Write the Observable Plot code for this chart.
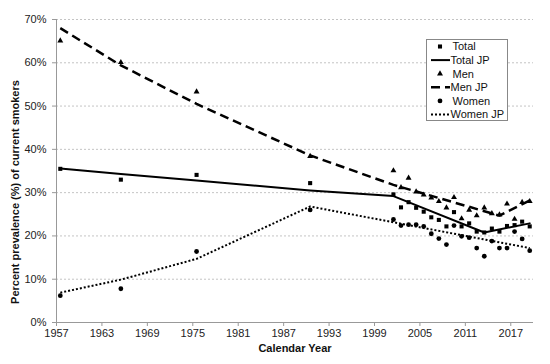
<!DOCTYPE html>
<html><head><meta charset="utf-8">
<script src="https://cdn.jsdelivr.net/npm/d3@7"></script>
<script src="https://cdn.jsdelivr.net/npm/@observablehq/plot@0.6"></script>
<style>
body{margin:0;background:#fff;}
#wrap{position:relative;width:550px;height:364px;font-family:"Liberation Sans",Arial,sans-serif;}
#legend{position:absolute;left:0;top:0;}
</style></head><body><div id="wrap"></div>
<script>
// Observed prevalence (%), data placed at mid-year
const years = [1957, 1965, 1975, 1990, 2001, 2002, 2003, 2004, 2005, 2006, 2007, 2008, 2009, 2010, 2011, 2012, 2013, 2014, 2015, 2016, 2017, 2018, 2019];
const total = [35.5, 33.0, 34.1, 32.2, 29.6, 26.6, 27.8, 26.5, 25.6, 24.3, 23.7, 22.2, 25.5, 22.2, 22.9, 21.0, 20.8, 21.7, 21.0, 22.3, 22.5, 23.3, 22.2];
const men   = [65.1, 60.1, 53.3, 38.4, 35.1, 31.2, 33.4, 30.2, 29.5, 28.8, 28.0, 26.5, 28.9, 24.0, 26.0, 24.7, 26.5, 25.2, 24.9, 27.4, 23.9, 27.8, 28.0];
const women = [6.2, 7.8, 16.4, 26.0, 23.8, 22.4, 22.6, 22.6, 22.2, 20.5, 19.4, 18.0, 22.4, 19.9, 19.6, 17.2, 15.3, 18.8, 17.2, 17.2, 21.0, 19.3, 16.6];

// Joinpoint fitted lines
const totalJpYears = [1957, 1965, 1975, 1990, 2001, 2013, 2019];
const totalJp      = [35.6, 34.3, 32.8, 30.5, 29.2, 20.8, 22.9];
const menJpYears   = [1957, 1965, 1975, 1990, 2001, 2015, 2019];
const menJp        = [68.0, 59.4, 50.5, 38.6, 31.8, 24.7, 28.2];
const womenJpYears = [1957, 1965, 1975, 1990, 2019];
const womenJp      = [6.9, 9.9, 14.7, 26.8, 17.2];

const xTicks = [1957, 1963, 1969, 1975, 1981, 1987, 1993, 1999, 2005, 2011, 2017];
const yTicks = [0, 10, 20, 30, 40, 50, 60, 70];
const legendLabels = ["Total", "Total JP", "Men", "Men JP", "Women", "Women JP"];

const rows = (ys, vs) => ys.map((y, i) => ({year: y, value: vs[i]}));
const mid = d => d.year + 0.5;
const font = "'Liberation Sans', Arial, sans-serif";
const R = {square: 2.3, triangle: 2.2, circle: 2.4};

const chart = Plot.plot({
  width: 550, height: 364,
  marginLeft: 56, marginRight: 17, marginTop: 19, marginBottom: 42,
  style: {fontFamily: font, fontSize: "11px", background: "#fff", color: "#222"},
  x: {domain: [1957, 2020]},
  y: {domain: [0, 70]},
  marks: [
    Plot.ruleY(yTicks.filter(d => d > 0), {stroke: "#c4c4c4", strokeDasharray: "2,2"}),
    Plot.axisX({ticks: xTicks, tickFormat: d => String(d), tickSize: 4, tickPadding: 3, stroke: "#999", fill: "#222", label: null, fontSize: 11}),
    Plot.axisY({ticks: yTicks, tickFormat: d => d + "%", tickSize: 4, tickPadding: 6, stroke: "#999", fill: "#222", label: null, fontSize: 11}),
    Plot.ruleY([0], {stroke: "#999"}),
    Plot.ruleX([1957], {stroke: "#999"}),
    Plot.dot(rows(years, total), {x: mid, y: "value", symbol: "square", r: R.square, fill: "black"}),
    Plot.line(rows(totalJpYears, totalJp), {x: mid, y: "value", stroke: "black", strokeWidth: 2}),
    Plot.dot(rows(years, men), {x: mid, y: "value", symbol: "triangle", r: R.triangle, fill: "black"}),
    Plot.line(rows(menJpYears, menJp), {x: mid, y: "value", stroke: "black", strokeWidth: 2.5, strokeDasharray: "9,5", strokeLinecap: "butt"}),
    Plot.dot(rows(years, women), {x: mid, y: "value", symbol: "circle", r: R.circle, fill: "black"}),
    Plot.line(rows(womenJpYears, womenJp), {x: mid, y: "value", stroke: "black", strokeWidth: 2, strokeDasharray: "2,2", strokeLinecap: "butt"}),
    Plot.text(["Percent prevalence (%) of current smokers"], {frameAnchor: "left", textAnchor: "middle", lineAnchor: "middle", rotate: -90, dx: -41, dy: 21, fontWeight: "bold", fontSize: 11, fill: "#111"}),
    Plot.text(["Calendar Year"], {frameAnchor: "bottom", textAnchor: "middle", lineAnchor: "middle", dy: 26, fontWeight: "bold", fontSize: 11, fill: "#111"})
  ]
});
const wrap = document.getElementById("wrap");
wrap.appendChild(chart);

// Legend overlay
const lg = d3.select(wrap).append("svg").attr("id", "legend").attr("width", 550).attr("height", 364);
lg.append("rect").attr("x", 426.5).attr("y", 39.5).attr("width", 81).attr("height", 81).attr("fill", "#fff").attr("stroke", "#888");
const sym = {square: d3.symbolSquare, triangle: d3.symbolTriangle, circle: d3.symbolCircle};
const kinds = [
  {t: "dot", s: "square"}, {t: "line", dash: null, w: 2},
  {t: "dot", s: "triangle"}, {t: "line", dash: "9,5", w: 2.5},
  {t: "dot", s: "circle"}, {t: "line", dash: "2,2", w: 2}
];
legendLabels.forEach((lab, i) => {
  const y = 46.5 + i * 13.6;
  const k = kinds[i];
  if (k.t === "dot") {
    lg.append("path").attr("d", d3.symbol(sym[k.s], Math.PI * R[k.s] * R[k.s])()).attr("transform", `translate(440,${y})`).attr("fill", "black");
  } else {
    lg.append("line").attr("x1", 431).attr("x2", 450).attr("y1", y).attr("y2", y).attr("stroke", "black").attr("stroke-width", k.w).attr("stroke-dasharray", k.dash);
  }
  lg.append("text").attr("x", k.t === "dot" ? 452.5 : 450.5).attr("y", y).attr("dy", "0.35em").attr("font-family", font).attr("font-size", 11).attr("fill", "#111").text(lab);
});
</script></body></html>
